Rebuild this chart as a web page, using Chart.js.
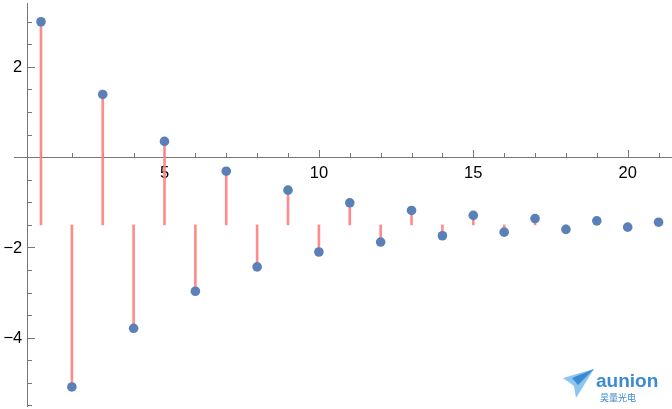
<!DOCTYPE html>
<html>
<head>
<meta charset="utf-8">
<script src="https://cdn.jsdelivr.net/npm/chart.js@4/dist/chart.umd.min.js"></script>
<style>
html,body{margin:0;padding:0;background:#fff;}
#wrap{width:672px;height:409px;position:relative;}
</style>
</head>
<body>
<div id="wrap"><canvas id="c" width="672" height="409"></canvas></div>
<script>
const xValues = [1,2,3,4,5,6,7,8,9,10,11,12,13,14,15,16,17,18,19,20,21];
const yValues = [3.0,-5.09,1.39,-3.79,0.35,-2.97,-0.31,-2.43,-0.73,-2.10,-1.01,-1.88,-1.18,-1.74,-1.29,-1.66,-1.36,-1.60,-1.41,-1.55,-1.44];
const stemBase = -1.5;
const xTickLabels = [5,10,15,20];
const yTickLabels = [2,-2,-4];
const yAxisAt = 0.557;

const points = xValues.map((x,i)=>({x:x,y:yValues[i]}));
const stems = xValues.map((x,i)=>({x:x,y:[stemBase,yValues[i]]}));

const axesPlugin = {
  id:'mmaAxes',
  beforeDatasetsDraw(chart){
    const ctx = chart.ctx, xs = chart.scales.x, ys = chart.scales.y;
    const y0 = ys.getPixelForValue(0);
    const x0 = xs.getPixelForValue(yAxisAt);
    ctx.save();
    ctx.strokeStyle = '#777';
    ctx.lineWidth = 1;
    // x axis
    ctx.beginPath();
    ctx.moveTo(14, Math.round(y0)+0.5);
    ctx.lineTo(chart.width, Math.round(y0)+0.5);
    ctx.stroke();
    // y axis
    ctx.beginPath();
    ctx.moveTo(Math.round(x0)+0.5, 3);
    ctx.lineTo(Math.round(x0)+0.5, 407);
    ctx.stroke();
    // x ticks
    for(let v=1; v<=21; v++){
      const px = Math.round(xs.getPixelForValue(v))+0.5;
      const len = (v%5===0)?7:4;
      ctx.beginPath();
      ctx.moveTo(px, Math.round(y0));
      ctx.lineTo(px, Math.round(y0)-len);
      ctx.stroke();
    }
    // y ticks
    for(let k=-11; k<=6; k++){
      const v = k*0.5;
      const py = Math.round(ys.getPixelForValue(v))+0.5;
      const len = (k%4===0)?8:5;
      ctx.beginPath();
      ctx.moveTo(Math.round(x0), py);
      ctx.lineTo(Math.round(x0)+len, py);
      ctx.stroke();
    }
    ctx.fillStyle = '#000';
    ctx.font = '16.5px "Liberation Sans", Arial, sans-serif';
    ctx.textAlign = 'center';
    ctx.textBaseline = 'middle';
    xTickLabels.forEach(v=>{
      ctx.fillText(String(v), xs.getPixelForValue(v), y0+16);
    });
    ctx.textAlign = 'right';
    yTickLabels.forEach(v=>{
      const s = v<0 ? '\u2212'+Math.abs(v) : String(v);
      ctx.fillText(s, x0-5, ys.getPixelForValue(v)+1);
    });
    ctx.restore();
  },
  afterDraw(chart){
    const ctx = chart.ctx;
    ctx.save();
    // watermark logo
    ctx.fillStyle = '#8cc6ee';
    ctx.beginPath();
    ctx.moveTo(563,378); ctx.lineTo(594,369); ctx.lineTo(576,398); ctx.lineTo(574,386); ctx.closePath();
    ctx.fill();
    ctx.fillStyle = '#3b8ad4';
    ctx.beginPath();
    ctx.moveTo(572,378); ctx.lineTo(594,369); ctx.lineTo(578,385); ctx.closePath();
    ctx.fill();
    ctx.fillStyle = '#3b8ad4';
    ctx.font = 'bold 19px "Liberation Sans", Arial, sans-serif';
    ctx.textAlign = 'left';
    ctx.textBaseline = 'alphabetic';
    ctx.fillText('aunion', 596, 387);
    ctx.font = '9px "Noto Sans CJK SC", sans-serif';
    ctx.fillText('昊量光电', 600, 401);
    ctx.restore();
  }
};

new Chart(document.getElementById('c'), {
  data:{
    datasets:[
      {type:'scatter', data:points, backgroundColor:'#5b80b8', borderColor:'#5b80b8', pointRadius:4.8, pointBorderWidth:0, order:0, clip:false},
      {type:'bar', data:stems, backgroundColor:'rgba(255,128,128,0.9)', borderWidth:0, barThickness:2, order:1, clip:false}
    ]
  },
  options:{
    responsive:false,
    animation:false,
    events:[],
    layout:{padding:0, autoPadding:false},
    plugins:{legend:{display:false}, tooltip:{enabled:false}},
    scales:{
      x:{type:'linear', min:-0.327, max:21.435, display:false, offset:false},
      y:{type:'linear', min:-5.578, max:3.482, display:false}
    }
  },
  plugins:[axesPlugin]
});
</script>
</body>
</html>
